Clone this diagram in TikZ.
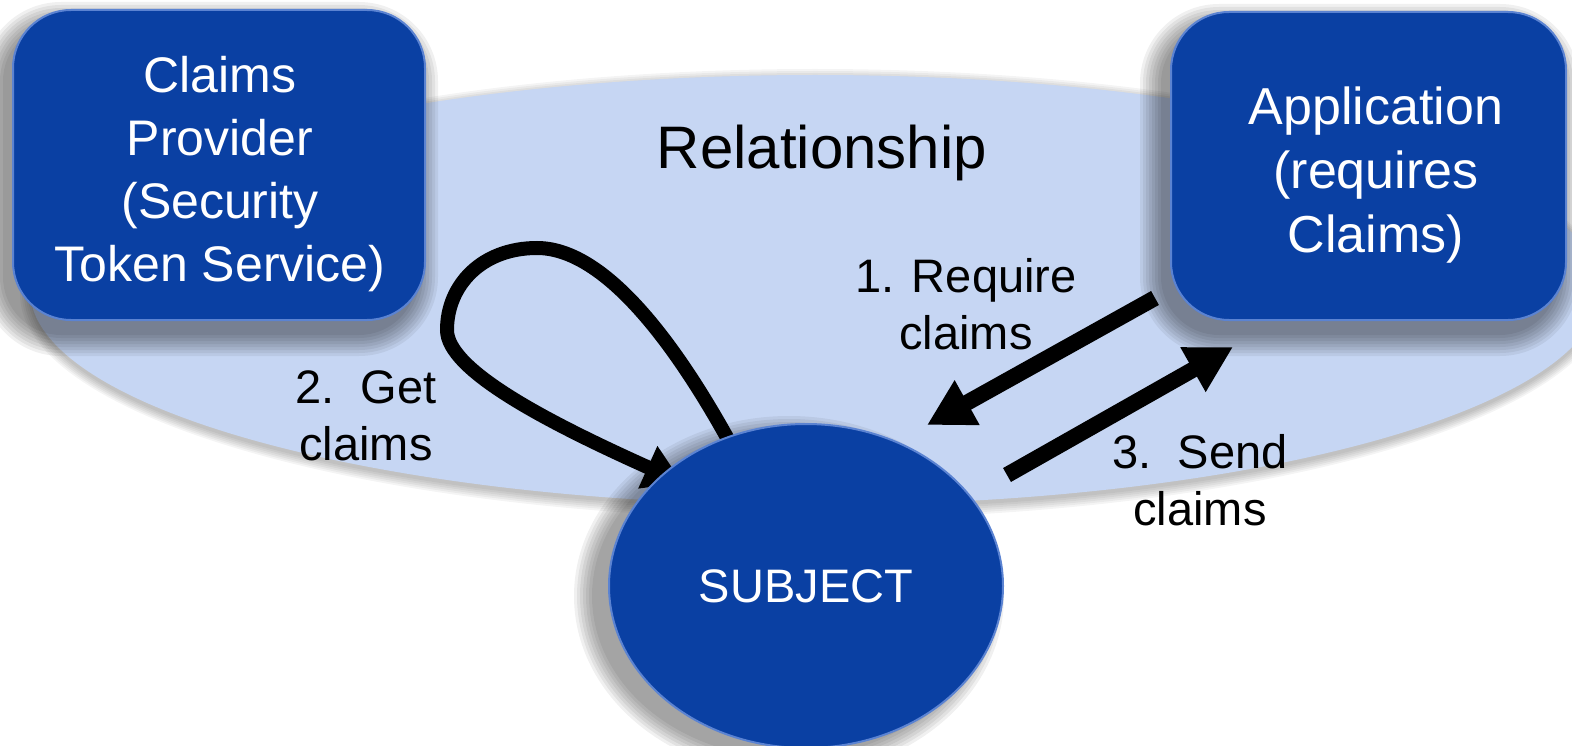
\documentclass[tikz,border=0pt]{standalone}
\usepackage{fontspec}
\setmainfont{Liberation Sans}
\usetikzlibrary{arrows.meta,shapes.geometric}

\definecolor{relblue}{HTML}{C6D6F3}
\definecolor{boxblue}{HTML}{0A40A3}
\definecolor{rimblue}{HTML}{5B83D2}

\pgfdeclarelayer{back}
\pgfdeclarelayer{area}
\pgfdeclarelayer{shade}
\pgfdeclarelayer{boxes}
\pgfdeclarelayer{mid}
\pgfsetlayers{back,area,shade,boxes,mid,main}

\tikzset{
  entity/.style={rectangle, rounded corners=58pt, fill=boxblue, draw=rimblue,
    line width=2pt, inner sep=0pt},
  boxtext/.style={text=white, align=center},
  steplabel/.style={text=black, align=center, font=\fontsize{47}{57}\selectfont},
  flow/.style={line width=16pt, -{Triangle[length=46pt,width=48pt]}},
  loopflow/.style={line width=14pt, -{Triangle[length=38pt,width=44pt]}},
  haze/.style={black, opacity=0.06},
}

% soft shadow of a rounded box node: stacked, growing translucent copies
\newcommand{\roundshade}[1]{%
  \foreach \r in {0,3,...,21}
    \fill[haze, rounded corners=58pt+\r*1pt]
      ([shift={(-9pt-\r*1pt,-14pt-\r*1pt)}]#1.south west)
      rectangle ([shift={(-9pt+\r*1pt,-14pt+\r*1pt)}]#1.north east);
}

\begin{document}
\begin{tikzpicture}[x=1pt,y=-1pt]
\useasboundingbox (0,0) rectangle (1572,746);

% subject of the exchange
\node[ellipse, fill=boxblue, draw=rimblue, line width=2pt,
      minimum width=394pt, minimum height=324pt, inner sep=0pt,
      text=white, font=\fontsize{47}{56}\selectfont]
  (subj) at (806,586) {SUBJECT};

\begin{pgfonlayer}{back}
  \fill[white] (0,0) rectangle (1572,746);
\end{pgfonlayer}

% relationship area
\begin{pgfonlayer}{area}
  \node[ellipse, fill=relblue, minimum width=1570pt, minimum height=430pt,
        inner sep=0pt] (rel) at (815,290) {};
\end{pgfonlayer}
\begin{pgfonlayer}{back}
  \foreach \r in {0,2,...,10}
    \fill[black, opacity=0.045] ([yshift=-4pt]rel.center)
      ellipse [x radius=785pt+\r*1pt, y radius=215pt+\r*1pt];
\end{pgfonlayer}

% parties
\begin{pgfonlayer}{boxes}
  \node[entity, minimum width=412pt, minimum height=310pt] (cp) at (219,165) {};
  \node[entity, minimum width=395pt, minimum height=308pt] (app) at (1368.5,166) {};
\end{pgfonlayer}

\begin{pgfonlayer}{shade}
  \roundshade{cp}
  \roundshade{app}
  \foreach \r in {0,3,...,18}
    \fill[haze] ([shift={(-17pt,-10pt)}]subj.center)
      ellipse [x radius=197pt+\r*1pt, y radius=162pt+\r*1pt];
\end{pgfonlayer}

\node[boxtext, font=\fontsize{50}{63}\selectfont] (cptext) at (220,174.5)
  {Claims\\Provider\\(Security\\Token Service)};
\node[boxtext, font=\fontsize{52}{64}\selectfont] (apptext) at (1376,175)
  {Application\\(requires\\Claims)};
\node[font=\fontsize{60}{72}\selectfont, anchor=base] (reltext) at (822,169) {Relationship};

\node[steplabel] (l1) at (966,304.4) {1. Require\\claims};
\node[steplabel] (l2) at (366,415.4) {2.\ \ Get\\claims};
\node[steplabel] (l3) at (1200,480.4) {3.\ \ Send\\claims};

\coordinate (reqtail) at (1155,298);
\coordinate (reqtip) at (927,425);
\coordinate (sendtail) at (1007,475);
\coordinate (sendtip) at (1233,347);

\begin{pgfonlayer}{mid}
  \draw[loopflow, shorten <=-8pt, shorten >=-22pt]
    (subj.118) .. controls (679,350) and (607,248) .. (537,248)
               .. controls (482,248) and (447,285) .. (447,330)
               .. controls (447,370) and (547,422) .. (subj.142);
  \draw[flow] (reqtail) -- (reqtip);
  \draw[flow] (sendtail) -- (sendtip);
\end{pgfonlayer}
\end{tikzpicture}
\end{document}
